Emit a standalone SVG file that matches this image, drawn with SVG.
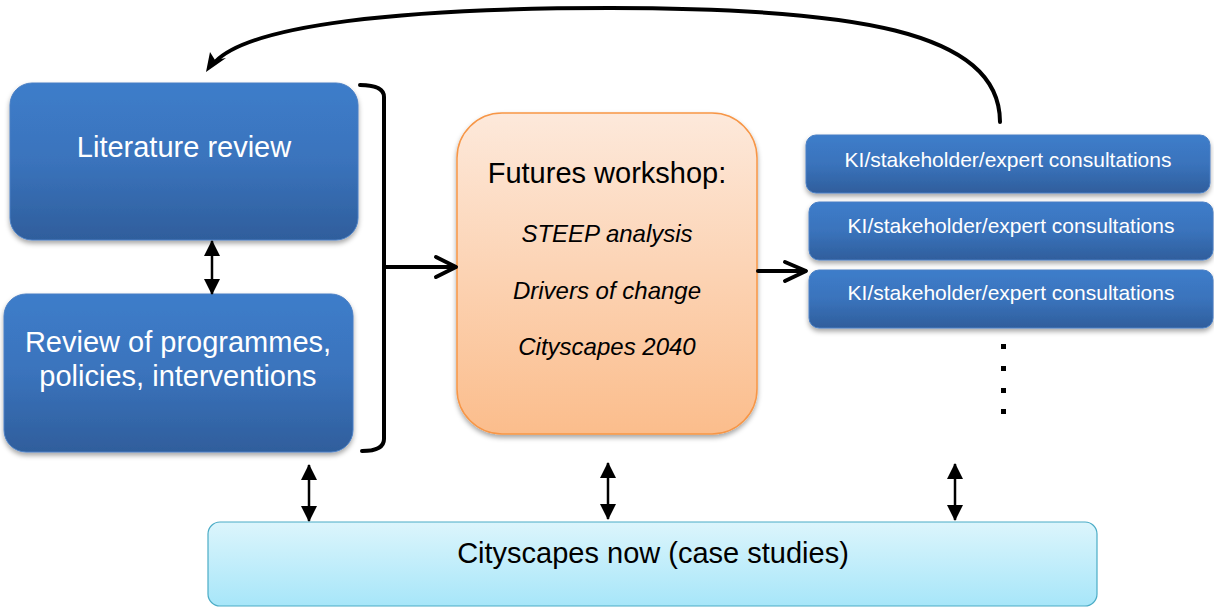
<svg xmlns="http://www.w3.org/2000/svg" width="1214" height="609" viewBox="0 0 1214 609">
<defs>
<linearGradient id="gBlue" x1="0" y1="0" x2="0" y2="1">
<stop offset="0" stop-color="#3d7dca"/>
<stop offset="0.5" stop-color="#3a73bc"/>
<stop offset="1" stop-color="#2f5e9c"/>
</linearGradient>
<linearGradient id="gOrange" x1="0" y1="0" x2="0" y2="1">
<stop offset="0" stop-color="#fde9db"/>
<stop offset="1" stop-color="#fbbd8c"/>
</linearGradient>
<linearGradient id="gCyan" x1="0" y1="0" x2="0" y2="1">
<stop offset="0" stop-color="#dcf5fc"/>
<stop offset="1" stop-color="#a7e6f9"/>
</linearGradient>
<filter id="sh" x="-10%" y="-10%" width="120%" height="130%">
<feDropShadow dx="0" dy="3" stdDeviation="2.5" flood-color="#000" flood-opacity="0.35"/>
</filter>
<marker id="tri" markerUnits="userSpaceOnUse" markerWidth="16" markerHeight="16" viewBox="0 0 16 16" refX="15" refY="8" orient="auto-start-reverse">
<path d="M0 0 L16 8 L0 16 Z" fill="#000"/>
</marker>
<marker id="curveHead" markerUnits="userSpaceOnUse" markerWidth="20" markerHeight="20" viewBox="0 0 20 20" refX="18" refY="10" orient="auto">
<path d="M2 2 L18 10 L2 18 L7 10 Z" fill="#000"/>
</marker>
<style>
.blue{fill:url(#gBlue);stroke:#4a7fc4;stroke-width:1;filter:url(#sh)}
.wt{fill:#fff;font-family:"Liberation Sans",Arial,sans-serif;text-anchor:middle}
.bt{fill:#000;font-family:"Liberation Sans",Arial,sans-serif;text-anchor:middle}
.it{font-style:italic;font-size:24px}
.thick{fill:none;stroke:#000;stroke-width:4;stroke-linecap:round;stroke-linejoin:round}
.dbl{stroke:#000;stroke-width:2.5;fill:none}
</style>
</defs>

<g id="literature-review">
<rect class="blue" x="10" y="83" width="348" height="157" rx="22"/>
<text class="wt" x="184" y="157" font-size="29">Literature review</text>
</g>

<g id="review-programmes">
<rect class="blue" x="4" y="294" width="349" height="158" rx="22"/>
<text class="wt" x="178" y="352" font-size="29">Review of programmes,</text>
<text class="wt" x="178" y="386" font-size="29">policies, interventions</text>
</g>

<g id="futures-workshop">
<rect x="457" y="113" width="300" height="321" rx="45" fill="url(#gOrange)" stroke="#f79646" stroke-width="1.5" filter="url(#sh)"/>
<text class="bt" x="607" y="183" font-size="29">Futures workshop:</text>
<text class="bt it" x="607" y="242">STEEP analysis</text>
<text class="bt it" x="607" y="299">Drivers of change</text>
<text class="bt it" x="607" y="355">Cityscapes 2040</text>
</g>

<g id="ki-1">
<rect class="blue" x="806" y="135" width="404" height="58" rx="10"/>
<text class="wt" x="1008" y="167" font-size="21">KI/stakeholder/expert consultations</text>
</g>
<g id="ki-2">
<rect class="blue" x="809" y="202" width="404" height="58" rx="10"/>
<text class="wt" x="1011" y="233" font-size="21">KI/stakeholder/expert consultations</text>
</g>
<g id="ki-3">
<rect class="blue" x="809" y="270" width="404" height="58" rx="10"/>
<text class="wt" x="1011" y="300" font-size="21">KI/stakeholder/expert consultations</text>
</g>

<g id="ellipsis">
<rect x="1001" y="344" width="5" height="5" fill="#000"/>
<rect x="1001" y="366" width="5" height="5" fill="#000"/>
<rect x="1001" y="388" width="5" height="5" fill="#000"/>
<rect x="1001" y="409" width="5" height="5" fill="#000"/>
</g>

<g id="cityscapes-now">
<rect x="208" y="522" width="889" height="84" rx="12" fill="url(#gCyan)" stroke="#4bacc6" stroke-width="1.2"/>
<text class="bt" x="653" y="563" font-size="29">Cityscapes now (case studies)</text>
</g>

<g id="connectors">
<path class="thick" d="M360 85 Q384 85 384 97 L384 439 Q384 451 362 451"/>
<path class="thick" d="M384 267 L455 267"/>
<path class="thick" d="M436 257 L456 267 L436 277"/>
<path class="thick" d="M758 271 L805 271"/>
<path class="thick" d="M785 262 L806 271 L785 281"/>
<path class="thick" d="M1000 122 C1000 30 850 8 610 8 C400 8 250 25 215 62"/>
<path d="M206 72 L210 52 L215 60 L226 58 Z" fill="#000"/>
<line class="dbl" x1="212" y1="241" x2="212" y2="294" marker-start="url(#tri)" marker-end="url(#tri)"/>
<line class="dbl" x1="309" y1="465" x2="309" y2="521" marker-start="url(#tri)" marker-end="url(#tri)"/>
<line class="dbl" x1="608" y1="463" x2="608" y2="519" marker-start="url(#tri)" marker-end="url(#tri)"/>
<line class="dbl" x1="955" y1="464" x2="955" y2="520" marker-start="url(#tri)" marker-end="url(#tri)"/>
</g>
</svg>
